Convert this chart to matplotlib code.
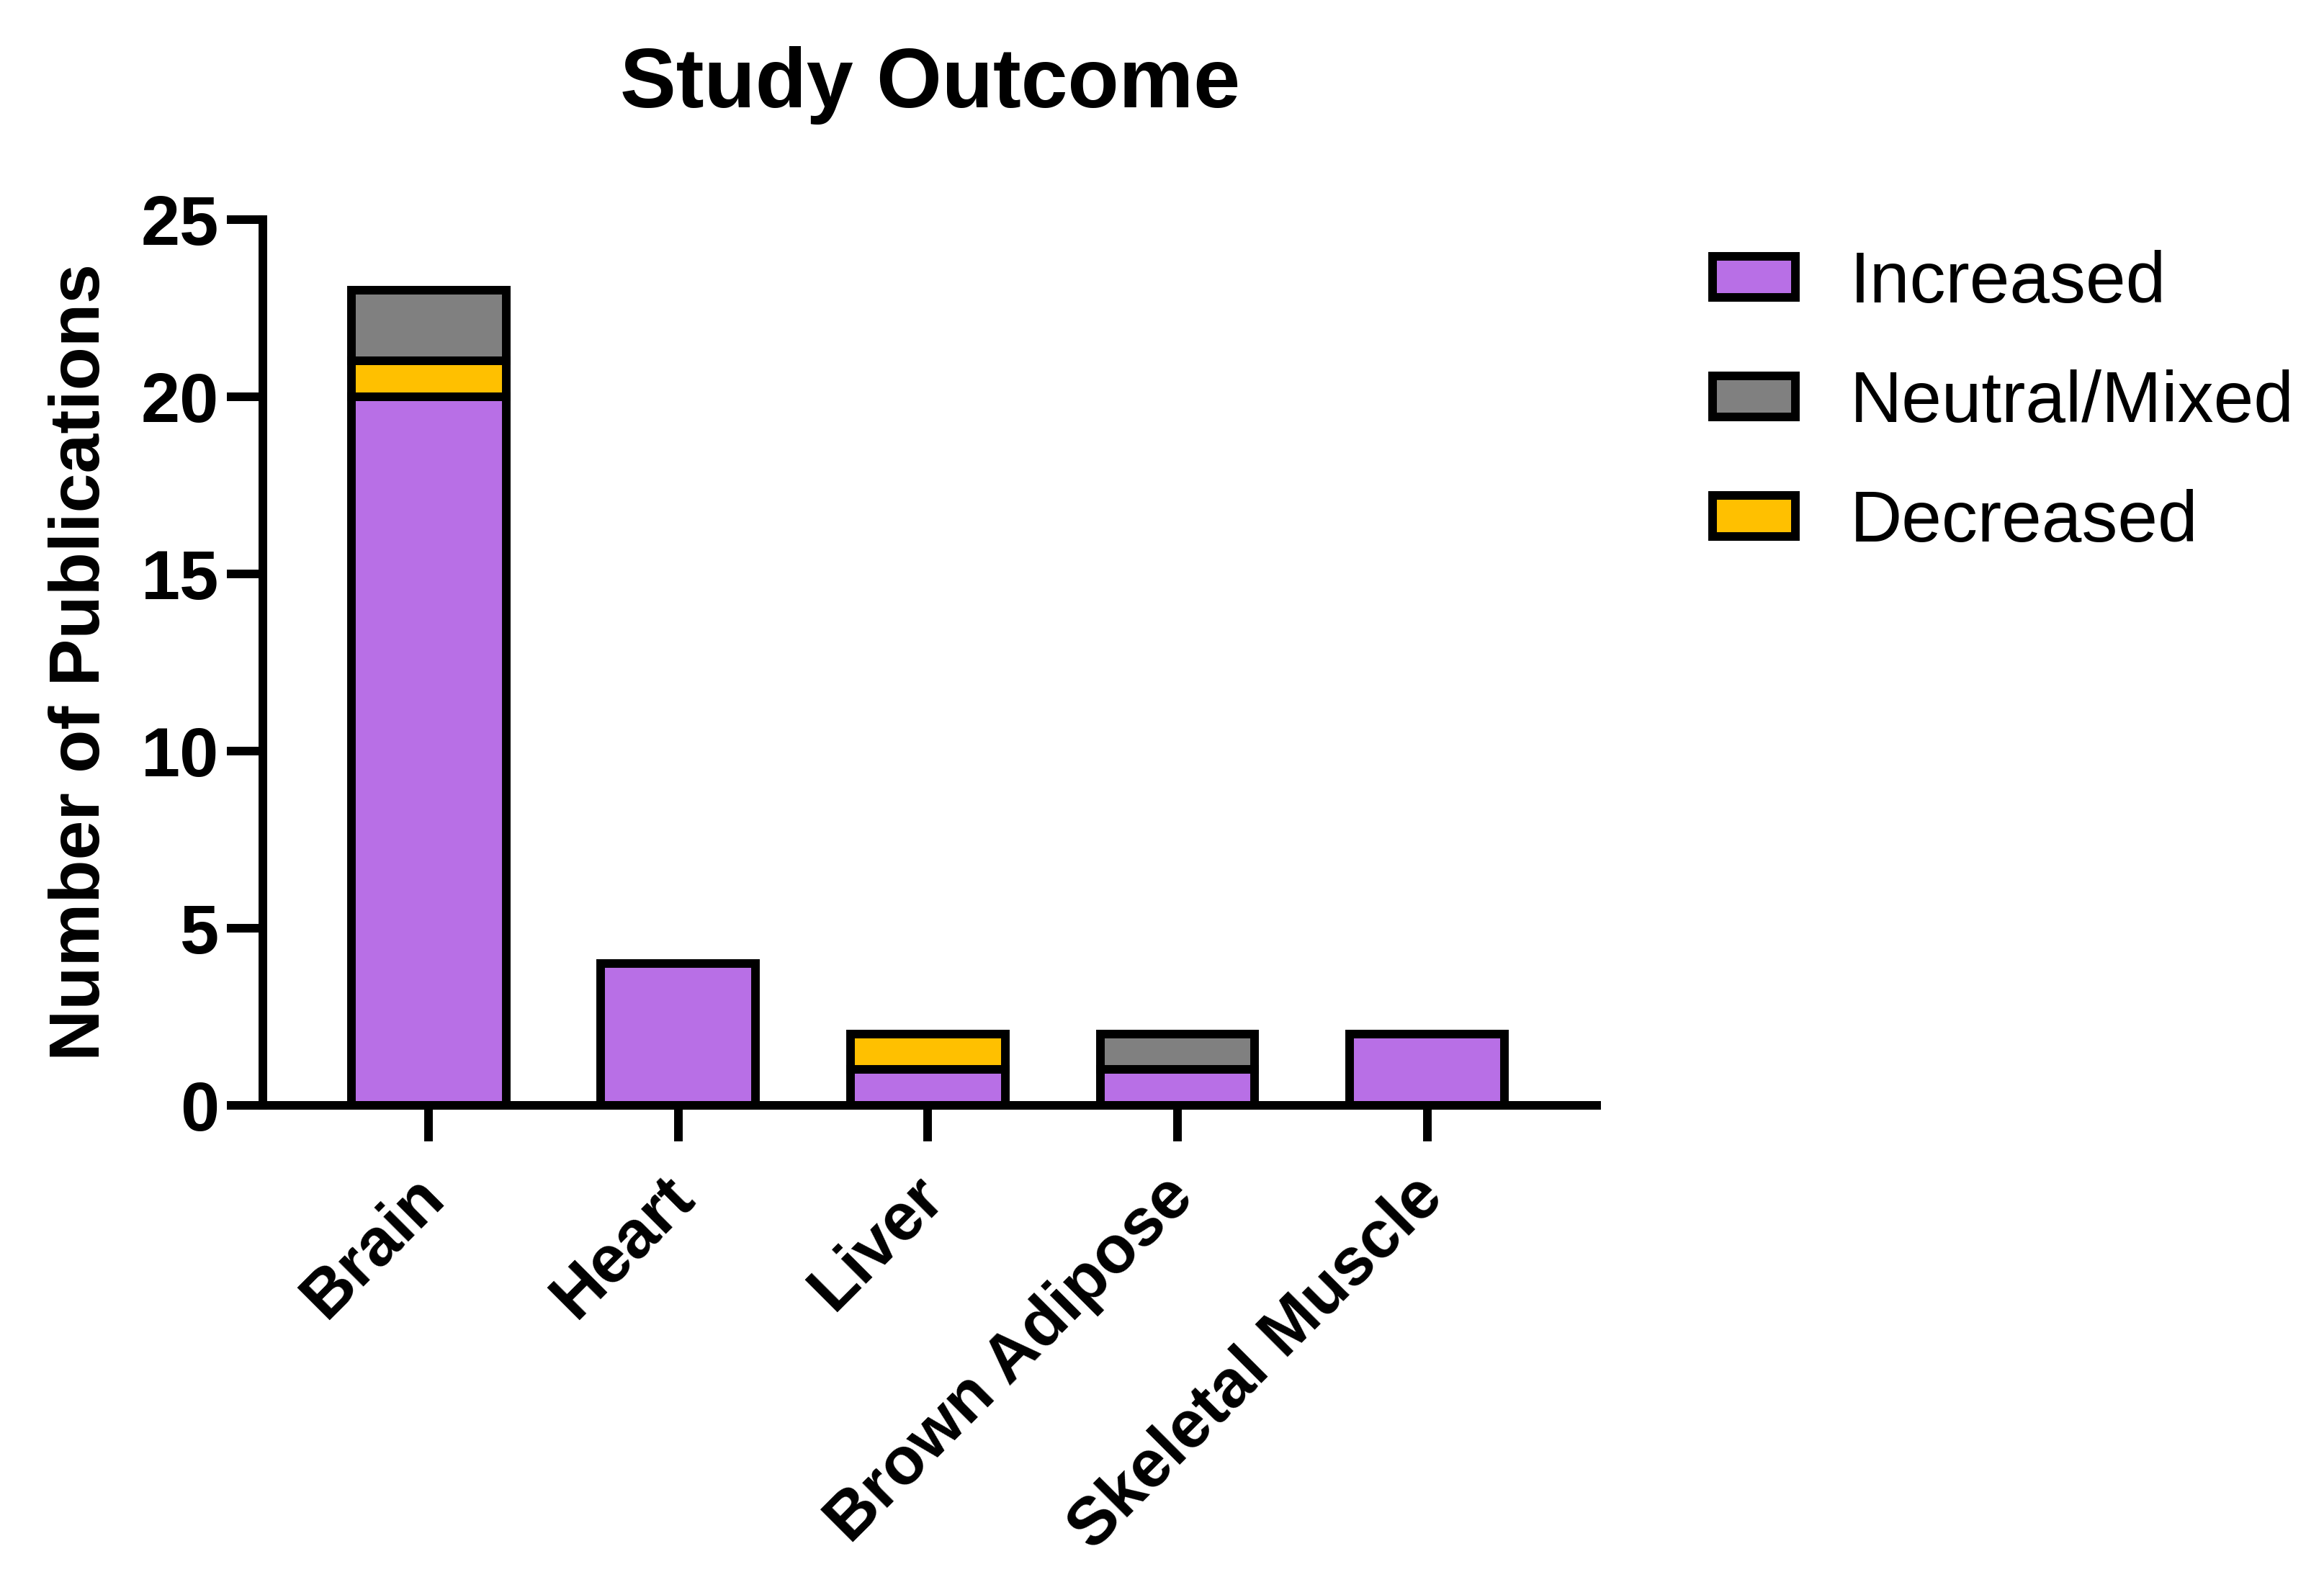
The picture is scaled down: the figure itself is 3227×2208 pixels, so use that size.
import matplotlib.pyplot as plt
from matplotlib.transforms import ScaledTranslation
import numpy as np

plt.rcParams['font.family'] = ['Liberation Sans', 'DejaVu Sans']

tissues = ["Brain", "Heart", "Liver", "Brown Adipose", "Skeletal Muscle"]
increased = [20, 4, 1, 1, 2]
decreased = [1, 0, 1, 0, 0]
neutral = [2, 0, 0, 1, 0]

purple = "#B86FE6"
gray = "#808080"
yellow = "#FFC000"
lw = 8.6

fig = plt.figure(figsize=(32.27, 22.08), dpi=100)
ax = fig.add_axes([0.1131, 0.305, 0.574, 0.557])

x = np.arange(len(tissues))
inc = np.array(increased)
dec = np.array(decreased)
neu = np.array(neutral)

b1 = ax.bar(x, inc, 0.62, color=purple, edgecolor="black", linewidth=lw, label="Increased")
b3 = ax.bar(x, dec, 0.62, bottom=inc, color=yellow, edgecolor="black", linewidth=lw, label="Decreased")
b2 = ax.bar(x, neu, 0.62, bottom=inc + dec, color=gray, edgecolor="black", linewidth=lw, label="Neutral/Mixed")
# hide zero-height segments
for bars, vals in ((b3, dec), (b2, neu)):
    for r, v in zip(bars, vals):
        if v == 0:
            r.set_visible(False)

ax.set_xlim(-0.664, 4.68)
ax.set_ylim(0, 25)
ax.set_yticks([0, 5, 10, 15, 20, 25])
ax.set_xticks(x)

for s in ["top", "right"]:
    ax.spines[s].set_visible(False)
for s in ["left", "bottom"]:
    ax.spines[s].set_linewidth(lw)
ax.tick_params(axis="both", direction="out", length=36, width=lw)
ax.tick_params(axis="y", pad=8)
ax.tick_params(axis="x", pad=30)

ax.set_xticklabels(tissues, rotation=45, ha="right", rotation_mode="anchor",
                   fontsize=67, fontweight="bold")
shift = ScaledTranslation(-0.22, 0.08, fig.dpi_scale_trans)
for lab in ax.get_xticklabels():
    lab.set_transform(lab.get_transform() + shift)
for lab in ax.get_yticklabels():
    lab.set_fontsize(70)
    lab.set_fontweight("bold")

ax.set_ylabel("Number of Publications", fontsize=71, fontweight="bold", labelpad=27)
ax.set_title("Study Outcome", fontsize=84, fontweight="bold", pad=112)

fig.legend(handles=[b1, b2, b3], labels=["Increased", "Neutral/Mixed", "Decreased"],
           loc="upper left", bbox_to_anchor=(0.737, 0.843), frameon=False,
           fontsize=72, handlelength=1.15, handleheight=0.5, handletextpad=0.75,
           labelspacing=0.72, borderpad=0, borderaxespad=0)

fig.savefig("out.png", dpi=100)
